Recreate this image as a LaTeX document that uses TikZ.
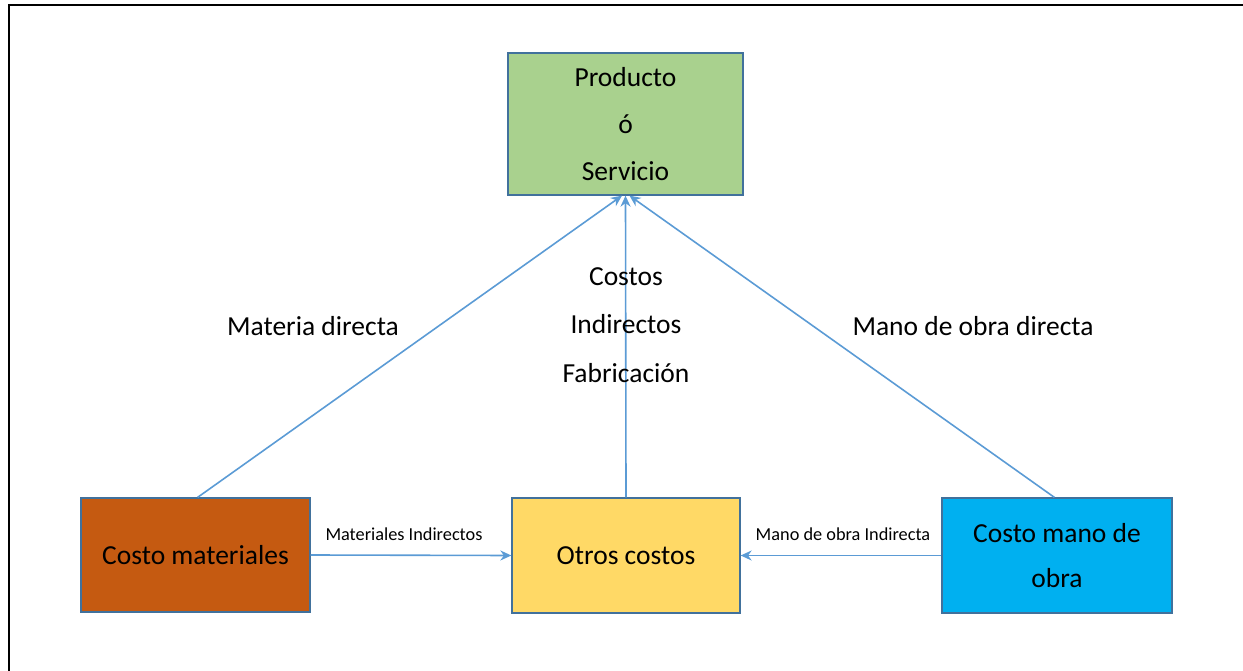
\documentclass[tikz,border=0pt]{standalone}
\usepackage{fontspec}
\setmainfont{Carlito}
\usetikzlibrary{arrows.meta}
\definecolor{cgreen}{HTML}{A9D18E}
\definecolor{corange}{HTML}{C55A11}
\definecolor{cyellow}{HTML}{FFD966}
\definecolor{cblue}{HTML}{00B0F0}
\definecolor{cedge}{HTML}{41719C}
\definecolor{carrow}{HTML}{5B9BD5}
\tikzset{
  box/.style={draw=cedge, line width=1.3pt, minimum width=#1, inner sep=0pt, align=center, font=\fontsize{27.5}{47}\selectfont},
  conn/.style={draw=carrow, line width=1.6pt, -{Stealth[length=11pt,width=10pt]}},
  biglbl/.style={align=center, inner sep=0pt, font=\fontsize{27.5}{48.5}\selectfont},
  smalllbl/.style={inner sep=0pt, font=\fontsize{18.3}{22}\selectfont},
}
\begin{document}
\begin{tikzpicture}[x=1pt,y=-1pt]
\useasboundingbox (0,0) rectangle (1243,671);
\draw[line width=2.5pt, line cap=rect] (9,671) coordinate (fl) -- (9,5) coordinate (fc) -- (1243,5) coordinate (fr);
\node[box=235pt, minimum height=142pt, fill=cgreen] (prod) at (625.5,124) {Producto\\ó\\Servicio};
\node[box=229pt, minimum height=114pt, fill=corange] (mat) at (195.5,555) {Costo materiales};
\node[box=228pt, minimum height=115pt, fill=cyellow] (otros) at (626,555.5) {Otros costos};
\node[box=230pt, minimum height=115pt, fill=cblue, font=\fontsize{27.5}{45}\selectfont] (mano) at (1057,555.5) {Costo mano de\\obra};
\draw[conn] ([xshift=-113pt]mat.north east) -- ([xshift=-3.5pt]prod.south);
\draw[conn] (otros.north) -- (prod.south);
\draw[conn] ([xshift=113pt]mano.north west) -- ([xshift=4pt]prod.south);
\draw[conn] (mat.east) -- (otros.west);
\draw[conn] (mano.west) -- (otros.east);
\node[biglbl] (lmd) at (313,326) {Materia directa};
\node[biglbl] (lci) at (626,325) {Costos\\Indirectos\\Fabricación};
\node[biglbl] (lmo) at (973,326) {Mano de obra directa};
\node[smalllbl] (lmi) at (404,534) {Materiales Indirectos};
\node[smalllbl] (lmoi) at (843,534) {Mano de obra Indirecta};
\end{tikzpicture}
\end{document}
